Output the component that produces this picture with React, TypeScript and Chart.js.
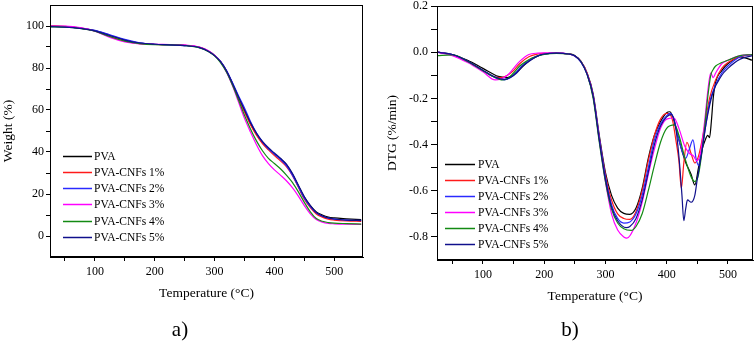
import React, { useEffect, useRef } from "react";
import { Chart, registerables } from "chart.js";

Chart.register(...registerables);

// ---------- shared ----------
const SERIES_NAMES = ["PVA", "PVA-CNFs 1%", "PVA-CNFs 2%", "PVA-CNFs 3%", "PVA-CNFs 4%", "PVA-CNFs 5%"];
const SERIES_COLORS = ["#000000", "#ff1a1a", "#2a2aff", "#ff00ff", "#138a13", "#10108c"];
const TEMP_TICKS = [50, 100, 150, 200, 250, 300, 350, 400, 450, 500];

// ---------- a) TGA ----------
const TGA_TEMPS = [25, 50, 75, 100, 125, 150, 175, 200, 225, 250, 275, 290, 300, 310, 320, 330, 340, 350, 360, 370, 380, 390, 400, 410, 420, 430, 440, 450, 460, 470, 480, 490, 500, 520, 545];
const TGA_PVA = [100, 99.7, 99, 97.8, 95.6, 93.3, 91.9, 91.3, 91.1, 90.8, 89.8, 88, 86, 83, 78.5, 72.5, 66, 59.5, 53.5, 48.5, 44.5, 41.5, 39, 36.8, 34, 29.5, 24, 18.5, 14.5, 11.5, 10, 9, 8.6, 8.2, 7.8];
const TGA_CNF1 = [100, 99.8, 99.1, 97.6, 95, 92.8, 91.6, 91.2, 91.1, 90.8, 89.8, 88, 86, 83, 78.5, 72.3, 65.5, 59, 53, 48, 44, 41, 38.3, 35.8, 33, 28.8, 23.2, 17.5, 13.5, 10.5, 9, 8, 7.6, 7.2, 7];
const TGA_CNF2 = [99.8, 99.6, 99, 97.9, 95.8, 93.6, 92, 91.3, 91, 90.7, 89.7, 88, 86, 83.2, 78.8, 73, 66.8, 61, 54.5, 49, 44.8, 41.5, 39, 36.5, 33.5, 29, 23.5, 18, 14, 11, 9.5, 8.5, 8, 7.6, 7.4];
const TGA_CNF3 = [100, 99.9, 99.2, 97.5, 94.5, 92.4, 91.5, 91.3, 91.2, 91, 90, 88.2, 86, 82.8, 78, 71.5, 63.8, 56, 49.5, 43.5, 38.3, 34.5, 31.5, 29, 26.3, 23, 19, 14.5, 10.5, 7.8, 6.6, 6, 5.8, 5.6, 5.5];
const TGA_CNF4 = [99.6, 99.4, 98.8, 97.5, 95, 92.8, 91.6, 91.1, 91, 90.7, 89.6, 87.8, 85.8, 82.6, 78, 71.8, 64.8, 57.5, 51, 45.3, 40.6, 37, 34.5, 32, 29, 25.5, 21, 16, 11.5, 8.3, 7, 6.4, 6.1, 5.9, 5.7];
const TGA_CNF5 = [99.7, 99.5, 98.9, 97.7, 95.5, 93.3, 91.9, 91.3, 91, 90.7, 89.7, 87.9, 85.9, 83, 78.6, 72.6, 66.2, 60, 54, 49, 45, 42, 39.5, 37, 34.2, 29.8, 24.2, 18.7, 14.5, 11.2, 9.6, 8.6, 8.1, 7.6, 7.3];
const WEIGHT_TICKS = [0, 10, 20, 30, 40, 50, 60, 70, 80, 90, 100];

// ---------- b) DTG ----------
const DTG_T_PVA = [25, 50, 75, 100, 125, 140, 150, 160, 175, 190, 200, 220, 240, 250, 260, 270, 280, 290, 300, 310, 320, 330, 340, 350, 360, 370, 380, 390, 400, 405, 410, 420, 430, 440, 446, 452, 458, 463, 467, 470, 473, 476, 480, 490, 500, 520, 540];
const DTG_PVA = [0, -0.01, -0.035, -0.07, -0.105, -0.11, -0.098, -0.075, -0.038, -0.016, -0.008, -0.004, -0.008, -0.015, -0.04, -0.09, -0.18, -0.36, -0.52, -0.62, -0.675, -0.698, -0.702, -0.675, -0.59, -0.46, -0.36, -0.3, -0.262, -0.258, -0.28, -0.38, -0.47, -0.53, -0.575, -0.5, -0.42, -0.38, -0.36, -0.37, -0.3, -0.2, -0.13, -0.08, -0.05, -0.02, -0.035];
const DTG_T_CNF1 = [25, 50, 75, 100, 120, 130, 140, 150, 160, 175, 190, 200, 220, 240, 250, 260, 270, 280, 290, 300, 310, 320, 330, 340, 350, 360, 370, 380, 390, 400, 405, 410, 415, 420, 424, 428, 433, 440, 446, 452, 460, 470, 480, 490, 500, 520, 540];
const DTG_CNF1 = [0, -0.012, -0.04, -0.08, -0.108, -0.11, -0.1, -0.08, -0.05, -0.02, -0.008, -0.005, -0.004, -0.008, -0.015, -0.04, -0.09, -0.19, -0.37, -0.53, -0.64, -0.7, -0.72, -0.724, -0.69, -0.6, -0.47, -0.36, -0.29, -0.265, -0.268, -0.3, -0.38, -0.47, -0.59, -0.48, -0.39, -0.44, -0.48, -0.45, -0.35, -0.2, -0.12, -0.07, -0.045, -0.02, -0.01];
const DTG_T_CNF2 = [25, 50, 75, 100, 120, 135, 145, 155, 165, 175, 190, 200, 220, 240, 250, 260, 270, 280, 290, 300, 310, 320, 330, 340, 350, 360, 370, 380, 390, 400, 406, 412, 420, 431, 437, 443, 448, 452, 460, 470, 480, 490, 500, 520, 540];
const DTG_CNF2 = [0, -0.01, -0.04, -0.08, -0.11, -0.12, -0.11, -0.085, -0.055, -0.035, -0.015, -0.008, -0.004, -0.008, -0.016, -0.042, -0.095, -0.19, -0.37, -0.54, -0.66, -0.72, -0.74, -0.735, -0.7, -0.62, -0.5, -0.38, -0.31, -0.275, -0.265, -0.29, -0.38, -0.46, -0.42, -0.38, -0.46, -0.49, -0.38, -0.22, -0.14, -0.09, -0.06, -0.02, -0.01];
const DTG_T_CNF3 = [25, 50, 75, 100, 120, 130, 140, 150, 160, 175, 190, 200, 220, 240, 250, 260, 270, 280, 290, 300, 310, 320, 330, 335, 340, 350, 360, 370, 380, 390, 400, 412, 420, 430, 438, 444, 449, 455, 462, 468, 472, 476, 480, 490, 500, 520, 540];
const DTG_CNF3 = [0, -0.015, -0.045, -0.085, -0.12, -0.115, -0.1, -0.07, -0.04, -0.01, -0.004, -0.003, -0.004, -0.008, -0.016, -0.04, -0.092, -0.19, -0.38, -0.56, -0.7, -0.77, -0.8, -0.805, -0.795, -0.74, -0.65, -0.53, -0.42, -0.33, -0.29, -0.285, -0.33, -0.41, -0.44, -0.45, -0.47, -0.44, -0.3, -0.15, -0.09, -0.11, -0.09, -0.05, -0.035, -0.015, -0.01];
const DTG_T_CNF4 = [25, 50, 75, 100, 120, 130, 140, 150, 160, 170, 180, 200, 220, 240, 250, 260, 270, 280, 290, 300, 310, 320, 330, 342, 350, 360, 370, 380, 390, 400, 413, 420, 430, 440, 446, 452, 460, 466, 472, 476, 480, 490, 500, 520, 540];
const DTG_CNF4 = [-0.015, -0.012, -0.04, -0.08, -0.11, -0.12, -0.115, -0.09, -0.06, -0.04, -0.025, -0.01, -0.005, -0.008, -0.015, -0.04, -0.095, -0.2, -0.39, -0.56, -0.68, -0.74, -0.765, -0.772, -0.755, -0.7, -0.6, -0.49, -0.39, -0.33, -0.315, -0.36, -0.46, -0.54, -0.56, -0.53, -0.38, -0.22, -0.1, -0.075, -0.06, -0.045, -0.035, -0.015, -0.01];
const DTG_T_CNF5 = [25, 50, 75, 100, 120, 135, 145, 155, 165, 175, 190, 200, 220, 240, 250, 260, 270, 280, 290, 300, 310, 320, 334, 340, 350, 360, 370, 380, 390, 400, 408, 415, 420, 425, 428, 431, 434, 440, 446, 450, 457, 465, 475, 490, 500, 520, 540];
const DTG_CNF5 = [0, -0.01, -0.038, -0.078, -0.108, -0.118, -0.11, -0.09, -0.06, -0.04, -0.016, -0.008, -0.004, -0.008, -0.016, -0.042, -0.095, -0.19, -0.38, -0.55, -0.67, -0.73, -0.76, -0.755, -0.72, -0.64, -0.52, -0.4, -0.32, -0.28, -0.27, -0.33, -0.45, -0.62, -0.73, -0.68, -0.64, -0.65, -0.62, -0.55, -0.44, -0.3, -0.18, -0.1, -0.07, -0.03, -0.015];
const DTG_TICKS = [-0.8, -0.7, -0.6, -0.5, -0.4, -0.3, -0.2, -0.1, 0, 0.1, 0.2];

const FONT = '"Liberation Serif", "Times New Roman", serif';

const pts = (xs: number[], ys: number[]) => xs.map((x, i) => ({ x, y: ys[i] }));

const framePlugin = {
  id: "frameLegend",
  afterDraw(chart: any, _args: any, opts: any) {
    const { ctx, chartArea: a } = chart;
    ctx.save();
    ctx.strokeStyle = "#000";
    ctx.lineWidth = 1;
    ctx.strokeRect(Math.round(a.left) + 0.5, Math.round(a.top) + 0.5, Math.round(a.right - a.left) - 1, Math.round(a.bottom - a.top) - 1);
    chart.data.datasets.forEach((ds: any, i: number) => {
      const y = Math.round(opts.y + i * opts.rowH) + 0.5;
      ctx.strokeStyle = ds.borderColor;
      ctx.lineWidth = 1.5;
      ctx.beginPath();
      ctx.moveTo(opts.x, y);
      ctx.lineTo(opts.x + opts.lineLen, y);
      ctx.stroke();
      ctx.fillStyle = "#000";
      ctx.font = `${opts.fontSize}px ${FONT}`;
      ctx.textBaseline = "middle";
      ctx.textAlign = "left";
      ctx.fillText(ds.label, opts.x + opts.lineLen + opts.gap, y);
    });
    ctx.restore();
  },
};

function buildConfig(p: {
  series: { x: number[]; y: number[] }[];
  yMin: number; yMax: number; yTicks: number[]; yLabel: (v: number) => string;
  yTitle: string; yAxisW: number; yTickLen: number; yTickPad: number; yTitlePad: number;
  xMin: number; xMax: number; xAxisH: number;
  padding: { top: number; right: number; bottom: number; left: number };
  legend: any;
}) {
  const tickFont = { family: FONT, size: 12 };
  const titleFont = { family: FONT, size: 13.5 };
  return {
    type: "line" as const,
    data: {
      datasets: p.series.map((s, i) => ({
        label: SERIES_NAMES[i],
        data: pts(s.x, s.y),
        borderColor: SERIES_COLORS[i],
        backgroundColor: SERIES_COLORS[i],
        borderWidth: 1.2,
        pointRadius: 0,
        fill: false,
        cubicInterpolationMode: "monotone" as const,
        order: SERIES_NAMES.length - i,
      })),
    },
    options: {
      animation: false as const,
      responsive: false,
      maintainAspectRatio: false,
      events: [],
      layout: { padding: p.padding },
      plugins: {
        legend: { display: false },
        tooltip: { enabled: false },
        frameLegend: p.legend,
      },
      scales: {
        x: {
          type: "linear" as const,
          min: p.xMin,
          max: p.xMax,
          afterBuildTicks: (s: any) => { s.ticks = TEMP_TICKS.map((v) => ({ value: v })); },
          afterFit: (s: any) => { s.height = p.xAxisH; s.paddingLeft = 0; s.paddingRight = 0; },
          ticks: {
            autoSkip: false, maxRotation: 0, color: "#000", font: tickFont, padding: 4,
            callback: (v: any) => (Number(v) % 100 === 0 ? String(v) : ""),
          },
          grid: { drawOnChartArea: false, drawTicks: true, tickLength: 4, color: "#000", lineWidth: 1 },
          border: { display: true, color: "#000", width: 1 },
          title: { display: true, text: "Temperature (°C)", color: "#000", font: titleFont, padding: 0 },
        },
        y: {
          type: "linear" as const,
          min: p.yMin,
          max: p.yMax,
          afterBuildTicks: (s: any) => { s.ticks = p.yTicks.map((v) => ({ value: v })); },
          afterFit: (s: any) => { s.width = p.yAxisW; s.paddingTop = 0; s.paddingBottom = 0; },
          ticks: {
            autoSkip: false, color: "#000", font: tickFont, padding: p.yTickPad,
            callback: (v: any) => p.yLabel(Number(v)),
          },
          grid: { drawOnChartArea: false, drawTicks: true, tickLength: p.yTickLen, color: "#000", lineWidth: 1 },
          border: { display: true, color: "#000", width: 1 },
          title: { display: true, text: p.yTitle, color: "#000", font: titleFont, padding: { top: p.yTitlePad, bottom: 0 } },
        },
      },
    },
    plugins: [framePlugin],
  };
}

function ChartCanvas({ config, left }: { config: any; left: number }) {
  const ref = useRef<HTMLCanvasElement | null>(null);
  useEffect(() => {
    if (!ref.current) return;
    const chart = new Chart(ref.current, config);
    return () => chart.destroy();
  }, [config]);
  return (
    <canvas
      ref={ref}
      width={378}
      height={359}
      style={{ position: "absolute", left, top: 0, width: 378, height: 359 }}
    />
  );
}

const configA = buildConfig({
  series: [
    { x: TGA_TEMPS, y: TGA_PVA },
    { x: TGA_TEMPS, y: TGA_CNF1 },
    { x: TGA_TEMPS, y: TGA_CNF2 },
    { x: TGA_TEMPS, y: TGA_CNF3 },
    { x: TGA_TEMPS, y: TGA_CNF4 },
    { x: TGA_TEMPS, y: TGA_CNF5 },
  ],
  yMin: -10, yMax: 110, yTicks: WEIGHT_TICKS,
  yLabel: (v) => (Math.round(v) % 20 === 0 ? String(Math.round(v)) : ""),
  yTitle: "Weight (%)", yAxisW: 50, yTickLen: 4, yTickPad: 2, yTitlePad: 0,
  xMin: 25, xMax: 548, xAxisH: 45,
  padding: { top: 5, right: 15, bottom: 57, left: 0 },
  legend: { x: 63, y: 155.5, rowH: 16.3, lineLen: 29, gap: 2, fontSize: 11.5 },
});

const configB = buildConfig({
  series: [
    { x: DTG_T_PVA, y: DTG_PVA },
    { x: DTG_T_CNF1, y: DTG_CNF1 },
    { x: DTG_T_CNF2, y: DTG_CNF2 },
    { x: DTG_T_CNF3, y: DTG_CNF3 },
    { x: DTG_T_CNF4, y: DTG_CNF4 },
    { x: DTG_T_CNF5, y: DTG_CNF5 },
  ],
  yMin: -0.9, yMax: 0.2, yTicks: DTG_TICKS,
  yLabel: (v) => (Math.round(v * 10) % 2 === 0 ? v.toFixed(1) : ""),
  yTitle: "DTG (%/min)", yAxisW: 59, yTickLen: 6, yTickPad: 3, yTitlePad: 6,
  xMin: 25, xMax: 541, xAxisH: 45,
  padding: { top: 6, right: 3, bottom: 54, left: 0 },
  legend: { x: 67, y: 164, rowH: 16, lineLen: 30, gap: 3, fontSize: 11.5 },
});

export default function App() {
  const labelStyle: React.CSSProperties = {
    position: "absolute", top: 316, width: 60, textAlign: "center",
    fontFamily: FONT, fontSize: 21, lineHeight: "26px", color: "#000",
  };
  return (
    <div style={{ position: "absolute", left: 0, top: 0, width: 756, height: 359, background: "#fff", overflow: "hidden" }}>
      <ChartCanvas config={configA} left={0} />
      <ChartCanvas config={configB} left={378} />
      <div style={{ ...labelStyle, left: 150 }}>a)</div>
      <div style={{ ...labelStyle, left: 540 }}>b)</div>
    </div>
  );
}
